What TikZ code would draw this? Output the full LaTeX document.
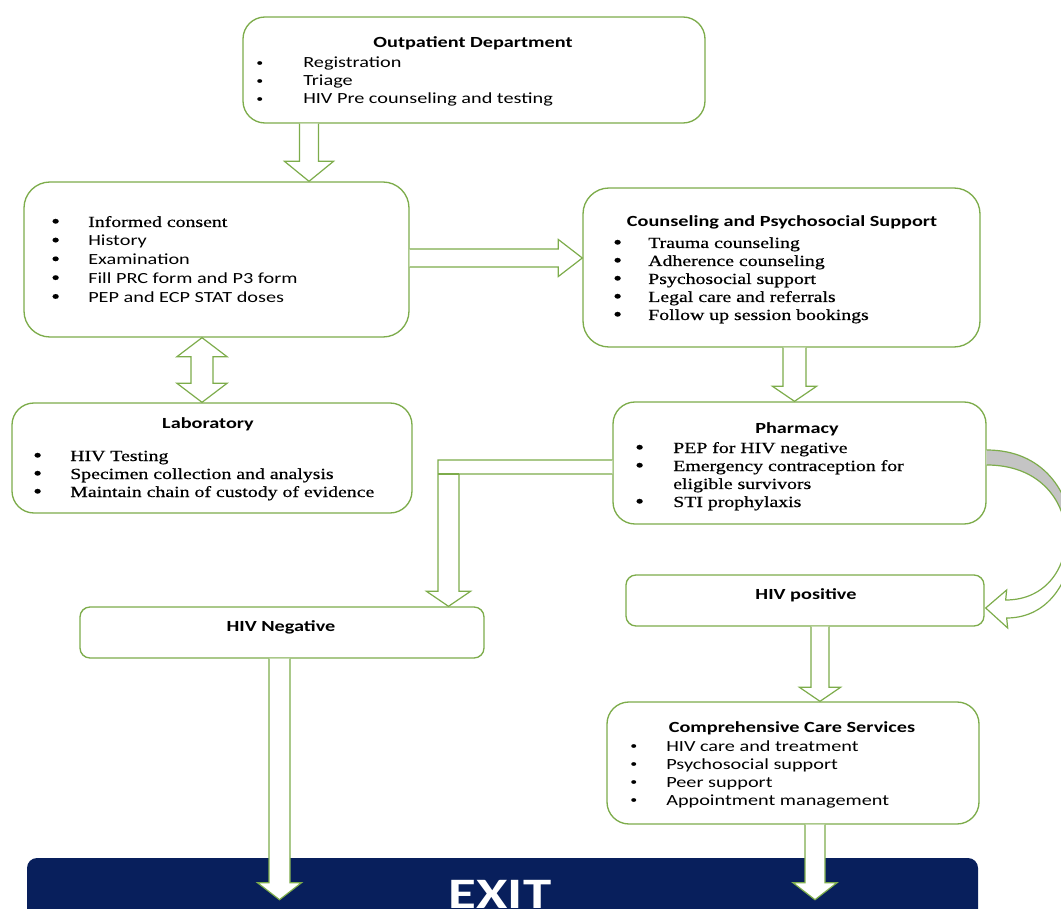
\documentclass[tikz,border=0pt]{standalone}
\usepackage{fontspec}
\setmainfont{Carlito}[FakeStretch=1.31]
\newfontfamily\tms{Liberation Serif}[FakeStretch=1.28,FakeBold=0.6]
\usetikzlibrary{calc}

\newdimen\upx \upx=0.75pt
\definecolor{gline}{RGB}{125,172,75}
\definecolor{navy}{RGB}{8,31,92}
\definecolor{ribbon}{RGB}{196,196,196}

% bullets: a large serif one and a small sans one
\newcommand\serifbul{{\tms\bfseries\fontsize{13}{13}\selectfont •}}
\newcommand\sansbul{{\fontsize{8}{8}\selectfont\raisebox{1.4pt}{•}}}

\tikzset{
  box/.style={draw=gline, line width=1pt, fill=white, inner sep=0pt},
  blk/.style={draw=gline, line width=0.9pt, fill=white, line join=miter},
  ttl/.style={inner sep=0pt, anchor=base, font=\fontsize{11.6}{13.5}\selectfont\bfseries},
  lst/.style={inner sep=0pt, anchor=base west, font=\fontsize{11.6}{13.5}\selectfont},
}

% block arrow pointing down: from, to, shaft half-width, head half-width, head length
\newcommand\downblk[5]{%
  \path[blk] let \p1=(#1), \p2=(#2) in
  (\x1-#3*\upx,\y1) -- (\x1-#3*\upx,\y2+#5*\upx) -- (\x1-#4*\upx,\y2+#5*\upx) -- (\x1,\y2)
  -- (\x1+#4*\upx,\y2+#5*\upx) -- (\x1+#3*\upx,\y2+#5*\upx) -- (\x1+#3*\upx,\y1);}
% block arrow pointing right
\newcommand\rightblk[5]{%
  \path[blk] let \p1=(#1), \p2=(#2) in
  (\x1,\y1+#3*\upx) -- (\x2-#5*\upx,\y1+#3*\upx) -- (\x2-#5*\upx,\y1+#4*\upx) -- (\x2,\y1)
  -- (\x2-#5*\upx,\y1-#4*\upx) -- (\x2-#5*\upx,\y1-#3*\upx) -- (\x1,\y1-#3*\upx);}
% two-headed vertical block arrow: top tip, bottom tip
\newcommand\updownblk[5]{%
  \path[blk] let \p1=(#1), \p2=(#2) in
  (\x1,\y1) -- (\x1+#4*\upx,\y1-#5*\upx) -- (\x1+#3*\upx,\y1-#5*\upx) -- (\x1+#3*\upx,\y2+#5*\upx)
  -- (\x1+#4*\upx,\y2+#5*\upx) -- (\x1,\y2) -- (\x1-#4*\upx,\y2+#5*\upx) -- (\x1-#3*\upx,\y2+#5*\upx)
  -- (\x1-#3*\upx,\y1-#5*\upx) -- (\x1-#4*\upx,\y1-#5*\upx) -- cycle;}

\begin{document}
\begin{tikzpicture}[x=0.75pt, y=-0.75pt]
\path[use as bounding box] (0,0) rectangle (1061,909);
\clip (0,0) rectangle (1061,909);

% ---------- boxes ----------
\node[box, rounded corners=22\upx, minimum width=462\upx, minimum height=106\upx] (opd) at (474,70) {};
\node[box, rounded corners=26\upx, minimum width=385\upx, minimum height=155\upx] (c1) at (216.5,259.5) {};
\node[box, rounded corners=26\upx, minimum width=397\upx, minimum height=159\upx] (cns) at (781.5,267.5) {};
\node[box, rounded corners=22\upx, minimum width=400\upx, minimum height=110\upx] (lab) at (212,458) {};
\node[box, rounded corners=22\upx, minimum width=373\upx, minimum height=122\upx] (ph) at (799.5,463) {};
\node[box, rounded corners=10\upx, minimum width=404\upx, minimum height=51\upx] (hneg) at (282,632.5) {};
\node[box, rounded corners=10\upx, minimum width=358\upx, minimum height=51\upx] (hpos) at (805,600.5) {};
\node[box, rounded corners=22\upx, minimum width=372\upx, minimum height=122\upx] (ccs) at (793,763) {};
\node[fill=navy, rounded corners=10\upx, inner sep=0pt, minimum width=951\upx, minimum height=72\upx] (exit) at (502.5,894) {};

% ---------- texts ----------
\node[ttl] (opdt) at (473,48) {Outpatient Department};
\node[lst] (opdl) at (256,68) {\begin{tabular}[t]{@{}p{47\upx}@{}l@{}}
  \sansbul & Registration\\ \sansbul & Triage\\ \sansbul & HIV Pre counseling and testing\end{tabular}};

\node[lst, font=\fontsize{11.6}{14.1}\selectfont] (c1l) at (51.5,227) {\begin{tabular}[t]{@{}p{36.5\upx}@{}l@{}}
  \serifbul & {\tms Informed consent}\\ \serifbul & History\\ \serifbul & Examination\\
  \serifbul & Fill PRC form and P3 form\\ \serifbul & PEP and ECP STAT doses\end{tabular}};

\node[ttl] (cnst) at (782,227) {Counseling and Psychosocial Support};
\node[lst] (cnsl) at (613.5,248) {\tms\begin{tabular}[t]{@{}p{34.5\upx}@{}l@{}}
  \serifbul & Trauma counseling\\ \serifbul & Adherence counseling\\ \serifbul & Psychosocial support\\
  \serifbul & Legal care and referrals\\ \serifbul & Follow up session bookings\end{tabular}};

\node[ttl] (labt) at (208,428) {Laboratory};
\node[lst] (labl) at (33.5,461) {\tms\begin{tabular}[t]{@{}p{36.5\upx}@{}l@{}}
  \serifbul & HIV Testing\\ \serifbul & Specimen collection and analysis\\ \serifbul & Maintain chain of custody of evidence\end{tabular}};

\node[ttl] (pht) at (797,434) {Pharmacy};
\node[lst] (phl) at (635.5,453) {\tms\begin{tabular}[t]{@{}p{37.5\upx}@{}l@{}}
  \serifbul & PEP for HIV negative\\ \serifbul & Emergency contraception for\\ & eligible survivors\\
  \serifbul & STI prophylaxis\end{tabular}};

\node[ttl] (hnegt) at (281,631) {HIV Negative};
\node[ttl] (hpost) at (806,599) {HIV positive};

\node[ttl] (ccst) at (792,732) {Comprehensive Care Services};
\node[lst] (ccsl) at (630,751) {\begin{tabular}[t]{@{}p{36\upx}@{}l@{}}
  \sansbul & HIV care and treatment\\ \sansbul & Psychosocial support\\ \sansbul & Peer support\\
  \sansbul & Appointment management\end{tabular}};

% ---------- arrow axes ----------
\coordinate (ax1) at (309,0);
\coordinate (ax2) at (0,258);
\coordinate (ax3) at (202,0);
\coordinate (ax4) at (794.5,0);
\coordinate (ax7) at (820,0);
\coordinate (ax8) at (279.5,0);
\coordinate (ax9) at (815,0);
\coordinate (xt) at ($(exit.north)+(0,42)$);

% ---------- block arrows ----------
\downblk{ax1 |- opd.south}{ax1 |- c1.north}{9.5}{24.5}{20}
\rightblk{c1.east |- ax2}{cns.west |- ax2}{9}{18.5}{24}
\updownblk{ax3 |- c1.south}{ax3 |- lab.north}{11}{25}{19}
\downblk{ax4 |- cns.south}{ax4 |- ph.north}{11.5}{22}{15}
\downblk{ax7 |- hpos.south}{ax7 |- ccs.north}{9}{20.5}{14}

% bent arrow: pharmacy to HIV negative
\coordinate (bend) at (448.5,467);
\path[blk] let \p1=(ph.west), \p2=(bend), \p3=(bend |- hneg.north) in
  (\x1,\y2+7*\upx) -- (\x2-10.5*\upx,\y2+7*\upx) -- (\x2-10.5*\upx,\y3+15*\upx)
  -- (\x2-22*\upx,\y3+15*\upx) -- (\x2,\y3) -- (\x2+22*\upx,\y3+15*\upx)
  -- (\x2+10.5*\upx,\y3+15*\upx) -- (\x2+10.5*\upx,\y2-7*\upx) -- (\x1,\y2-7*\upx);
\draw[gline, line width=0.9pt] let \p2=(bend) in
  (\x2-10.5*\upx,\y2-7*\upx) -- (\x2+10.5*\upx,\y2-7*\upx);

% curved ribbon arrow: pharmacy to HIV positive
\coordinate (co0) at ([shift={(0,-13)}]ph.east);
\coordinate (ci0) at ([shift={(0,2)}]ph.east);
\coordinate (ctip) at ([shift={(1,7.5)}]hpos.east);
\coordinate (cwu) at ([shift={(22,-10.5)}]hpos.east);
\coordinate (cwl) at ([shift={(23,27.5)}]hpos.east);
\coordinate (cbi) at ([shift={(21,-0.5)}]hpos.east);
\coordinate (cbo) at ([shift={(22,17.5)}]hpos.east);
\def\ribbonpath{(co0) .. controls (1100,450) and (1095,618) .. (cbo) -- (cwl) -- (ctip)
  -- (cwu) -- (cbi) .. controls (1088,600) and (1090,465) .. (ci0)}
\fill[white] \ribbonpath -- cycle;
\begin{scope}
  \clip (960,430) rectangle (1100,532);
  \fill[ribbon] \ribbonpath -- cycle;
\end{scope}
\draw[gline, line width=0.9pt, line join=miter] \ribbonpath;

% arrows into the exit banner
\downblk{ax8 |- hneg.south}{ax8 |- xt}{10.5}{22}{17}
\downblk{ax9 |- ccs.south}{ax9 |- xt}{10}{22}{17}

\node[inner sep=0pt, anchor=base, text=white, font=\fontsize{32.6}{36}\selectfont\bfseries] (exitt) at (500,908) {EXIT};
\end{tikzpicture}
\end{document}
